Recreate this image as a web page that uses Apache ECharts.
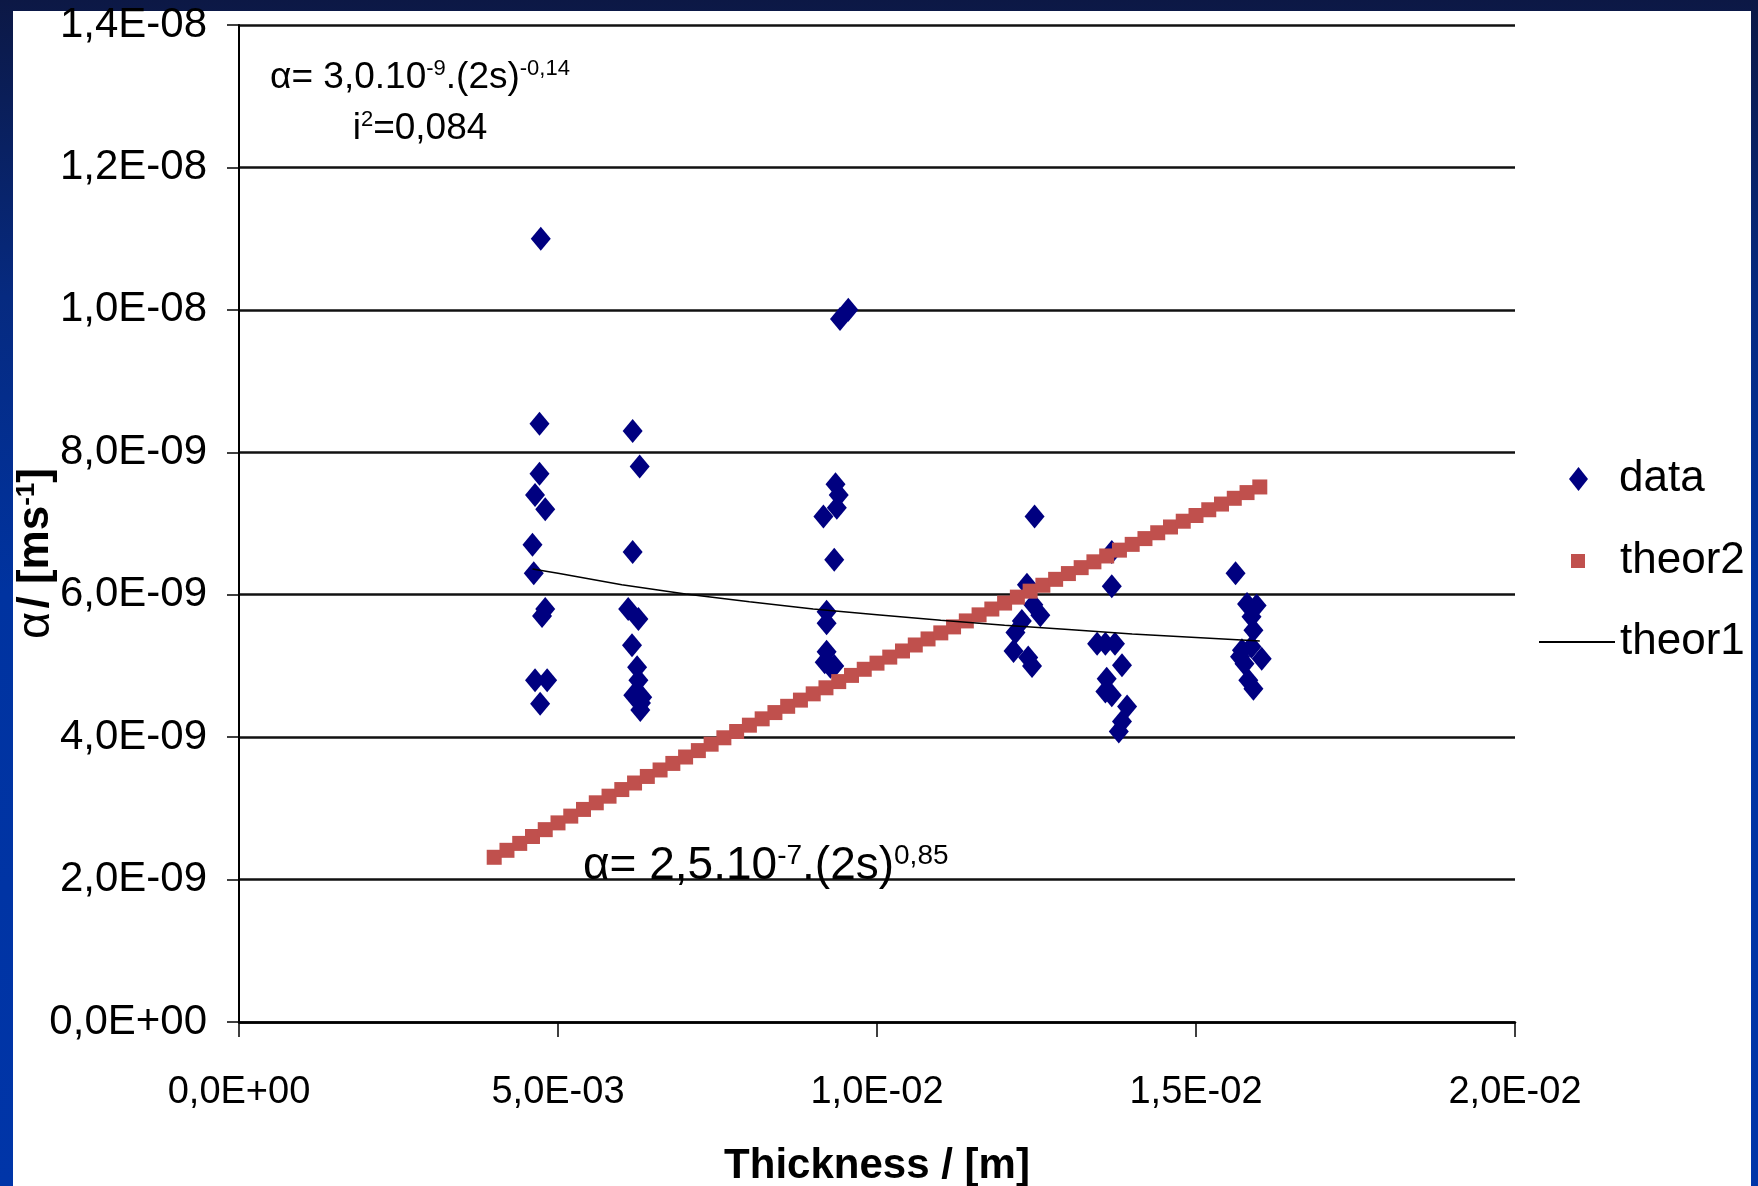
<!DOCTYPE html>
<html>
<head>
    <meta charset="utf-8">
    <script src="https://cdn.jsdelivr.net/npm/echarts@6/dist/echarts.min.js"></script>
    <style>
        body{
            margin:0;
            padding:0;
        }
    </style>
</head>
<body>
<div id="main" style="width:1758px;height:1186px;"></div>
<script type="text/javascript">
// axis ticks
var xTickLabels = ['0,0E+00', '5,0E-03', '1,0E-02', '1,5E-02', '2,0E-02'];
var yTickLabels = ['0,0E+00', '2,0E-09', '4,0E-09', '6,0E-09', '8,0E-09', '1,0E-08', '1,2E-08', '1,4E-08'];

// measured points (thickness in m, alpha in m/s)
var dataThickness = [
  0.00473, 0.00471, 0.00471, 0.00464, 0.00480, 0.00460, 0.00462, 0.00480, 0.00475, 0.00464, 0.00483, 0.00472,
  0.00617, 0.00628, 0.00617, 0.00610, 0.00626, 0.00616, 0.00624, 0.00626, 0.00618, 0.00632, 0.00630, 0.00629,
  0.00955, 0.00942, 0.00935, 0.00940, 0.00937, 0.00916, 0.00933, 0.00921, 0.00921, 0.00921, 0.00918, 0.00927, 0.00933,
  0.01247, 0.01235, 0.01245, 0.01256, 0.01227, 0.01217, 0.01214, 0.01237, 0.01243,
  0.01368, 0.01368, 0.01345, 0.01358, 0.01373, 0.01384, 0.01360, 0.01358, 0.01368, 0.01392, 0.01384, 0.01379,
  0.01562, 0.01580, 0.01595, 0.01587, 0.01590, 0.01572, 0.01587, 0.01603, 0.01569, 0.01576, 0.01582, 0.01590
];
var dataAlpha = [
  1.10e-8, 8.40e-9, 7.70e-9, 7.40e-9, 7.20e-9, 6.70e-9, 6.30e-9, 5.80e-9, 5.70e-9, 4.80e-9, 4.80e-9, 4.47e-9,
  8.30e-9, 7.80e-9, 6.60e-9, 5.80e-9, 5.66e-9, 5.29e-9, 4.98e-9, 4.80e-9, 4.59e-9, 4.56e-9, 4.48e-9, 4.38e-9,
  1.00e-8, 9.87e-9, 7.55e-9, 7.40e-9, 7.22e-9, 7.10e-9, 6.49e-9, 5.76e-9, 5.60e-9, 5.20e-9, 5.05e-9, 4.99e-9, 5.00e-9,
  7.10e-9, 6.14e-9, 5.86e-9, 5.71e-9, 5.63e-9, 5.47e-9, 5.21e-9, 5.12e-9, 5.00e-9,
  6.60e-9, 6.12e-9, 5.31e-9, 5.31e-9, 5.31e-9, 5.01e-9, 4.82e-9, 4.64e-9, 4.59e-9, 4.43e-9, 4.22e-9, 4.08e-9,
  6.30e-9, 5.87e-9, 5.85e-9, 5.69e-9, 5.50e-9, 5.22e-9, 5.27e-9, 5.10e-9, 5.13e-9, 5.03e-9, 4.80e-9, 4.68e-9
];

// theor2 squares
var theor2Thickness = [
  0.0040, 0.0042, 0.0044, 0.0046, 0.0048, 0.0050, 0.0052, 0.0054, 0.0056, 0.0058,
  0.0060, 0.0062, 0.0064, 0.0066, 0.0068, 0.0070, 0.0072, 0.0074, 0.0076, 0.0078,
  0.0080, 0.0082, 0.0084, 0.0086, 0.0088, 0.0090, 0.0092, 0.0094, 0.0096, 0.0098,
  0.0100, 0.0102, 0.0104, 0.0106, 0.0108, 0.0110, 0.0112, 0.0114, 0.0116, 0.0118,
  0.0120, 0.0122, 0.0124, 0.0126, 0.0128, 0.0130, 0.0132, 0.0134, 0.0136, 0.0138,
  0.0140, 0.0142, 0.0144, 0.0146, 0.0148, 0.0150, 0.0152, 0.0154, 0.0156, 0.0158,
  0.0160
];
var theor2Alpha = [
  2.313e-9, 2.411e-9, 2.508e-9, 2.605e-9, 2.701e-9, 2.796e-9, 2.891e-9, 2.985e-9, 3.078e-9, 3.171e-9,
  3.264e-9, 3.356e-9, 3.448e-9, 3.539e-9, 3.631e-9, 3.721e-9, 3.811e-9, 3.901e-9, 3.991e-9, 4.079e-9,
  4.168e-9, 4.257e-9, 4.345e-9, 4.433e-9, 4.520e-9, 4.608e-9, 4.693e-9, 4.780e-9, 4.867e-9, 4.953e-9,
  5.039e-9, 5.124e-9, 5.210e-9, 5.294e-9, 5.379e-9, 5.464e-9, 5.548e-9, 5.632e-9, 5.717e-9, 5.799e-9,
  5.883e-9, 5.966e-9, 6.050e-9, 6.133e-9, 6.216e-9, 6.297e-9, 6.380e-9, 6.462e-9, 6.544e-9, 6.626e-9,
  6.707e-9, 6.788e-9, 6.870e-9, 6.951e-9, 7.032e-9, 7.112e-9, 7.193e-9, 7.273e-9, 7.354e-9, 7.434e-9,
  7.513e-9
];

// theor1 line
var theor1Thickness = [0.0046, 0.005, 0.006, 0.007, 0.008, 0.009, 0.010, 0.011, 0.012, 0.013, 0.014, 0.015, 0.016];
var theor1Alpha = [6.36e-9, 6.30e-9, 6.14e-9, 6.01e-9, 5.90e-9, 5.80e-9, 5.72e-9, 5.64e-9, 5.57e-9, 5.51e-9, 5.45e-9, 5.40e-9, 5.35e-9];

function pairs(xs, ys) {
  return xs.map(function (x, i) { return [x, ys[i]]; });
}

var font = 'Liberation Sans, Arial, sans-serif';
var myChart = echarts.init(document.getElementById('main'));

var option = {
  backgroundColor: new echarts.graphic.LinearGradient(0, 0, 0, 1, [
    { offset: 0, color: '#0c1845' },
    { offset: 0.25, color: '#062a80' },
    { offset: 0.5, color: '#0033a0' },
    { offset: 1, color: '#0035a8' }
  ]),
  textStyle: { fontFamily: font },
  graphic: [
    {
      type: 'rect', z: -100,
      shape: { x: 13, y: 11, width: 1738, height: 1180 },
      style: { fill: '#ffffff' }
    },
    {
      type: 'text', z: 100, x: 420, y: 78,
      style: {
        text: '{m|α= 3,0.10}{s|-9}{m|.(2s)}{s|-0,14}',
        align: 'center', verticalAlign: 'middle',
        rich: {
          m: { fontSize: 37, lineHeight: 40, fill: '#000', fontFamily: font },
          s: { fontSize: 22, lineHeight: 16, verticalAlign: 'top', fill: '#000', fontFamily: font }
        }
      }
    },
    {
      type: 'text', z: 100, x: 420, y: 129,
      style: {
        text: '{m|i}{s|2}{m|=0,084}',
        align: 'center', verticalAlign: 'middle',
        rich: {
          m: { fontSize: 37, lineHeight: 40, fill: '#000', fontFamily: font },
          s: { fontSize: 22, lineHeight: 16, verticalAlign: 'top', fill: '#000', fontFamily: font }
        }
      }
    },
    {
      type: 'text', z: 100, x: 583, y: 866,
      style: {
        text: '{m|α= 2,5.10}{s|-7}{m|.(2s)}{s|0,85}',
        align: 'left', verticalAlign: 'middle',
        rich: {
          m: { fontSize: 46, lineHeight: 48, fill: '#000', fontFamily: font },
          s: { fontSize: 28, lineHeight: 20, verticalAlign: 'top', fill: '#000', fontFamily: font }
        }
      }
    }
  ],
  legend: [
    {
      data: [{ name: 'data', icon: 'diamond' }],
      left: 1564, top: 452, itemWidth: 19, itemHeight: 24, selectedMode: false,
      textStyle: { fontSize: 44, color: '#000', fontFamily: font, padding: [0, 0, 0, 26] }
    },
    {
      data: [{ name: 'theor2', icon: 'rect' }],
      left: 1566, top: 534, itemWidth: 14, itemHeight: 14, selectedMode: false,
      textStyle: { fontSize: 44, color: '#000', fontFamily: font, padding: [0, 0, 0, 30] }
    },
    {
      data: [{ name: 'theor1', icon: 'rect' }],
      left: 1534, top: 615, itemWidth: 76, itemHeight: 2, selectedMode: false,
      textStyle: { fontSize: 44, color: '#000', fontFamily: font }
    }
  ],
  grid: {
    left: 239,
    right: 243,
    top: 25,
    bottom: 164,
    containLabel: false,
    outerBoundsMode: 'none'
  },
  xAxis: {
    type: 'value',
    min: 0,
    max: 0.02,
    interval: 0.005,
    name: 'Thickness / [m]',
    nameLocation: 'middle',
    nameGap: 123,
    nameMoveOverlap: false,
    nameTextStyle: { fontSize: 42, fontWeight: 'bold', color: '#000', fontFamily: font },
    splitLine: { show: false },
    axisLine: { lineStyle: { color: '#000', width: 2.5 } },
    axisTick: { length: 15, lineStyle: { color: '#000', width: 1.5 } },
    axisLabel: {
      fontSize: 38, color: '#000', margin: 52, fontFamily: font,
      formatter: function (v) { return xTickLabels[Math.round(v / 0.005)]; }
    }
  },
  yAxis: {
    type: 'value',
    min: 0,
    max: 1.4e-8,
    interval: 2e-9,
    name: '{a|α} {b|/ [ms}{s|-1}{b|]}',
    nameLocation: 'middle',
    nameGap: 181,
    nameMoveOverlap: false,
    nameTextStyle: {
      padding: [0, 60, 0, 0],
      rich: {
        a: { fontSize: 47, color: '#000', fontFamily: font, lineHeight: 44 },
        b: { fontSize: 44, fontWeight: 'bold', color: '#000', fontFamily: font, lineHeight: 44 },
        s: { fontSize: 26, fontWeight: 'bold', color: '#000', fontFamily: font, lineHeight: 18, verticalAlign: 'top' }
      }
    },
    splitLine: { lineStyle: { color: '#111', width: 2.5 } },
    axisLine: { show: true, lineStyle: { color: '#000', width: 2 } },
    axisTick: { show: true, length: 12, lineStyle: { color: '#000', width: 1.5 } },
    axisLabel: {
      fontSize: 42, color: '#000', margin: 32, fontFamily: font,
      formatter: function (v) { return yTickLabels[Math.round(v / 2e-9)]; }
    }
  },
  series: [
    {
      name: 'data',
      type: 'scatter',
      symbol: 'diamond',
      symbolSize: [20, 24],
      itemStyle: { color: '#000080', opacity: 1 },
      data: pairs(dataThickness, dataAlpha)
    },
    {
      name: 'theor2',
      type: 'scatter',
      symbol: 'rect',
      symbolSize: 15,
      itemStyle: { color: '#c0504d', opacity: 1 },
      data: pairs(theor2Thickness, theor2Alpha)
    },
    {
      name: 'theor1',
      type: 'line',
      symbol: 'none',
      smooth: false,
      itemStyle: { color: '#000' },
      lineStyle: { color: '#000', width: 1.5 },
      data: pairs(theor1Thickness, theor1Alpha)
    }
  ]
};
myChart.setOption(option);
</script>
</body>
</html>
